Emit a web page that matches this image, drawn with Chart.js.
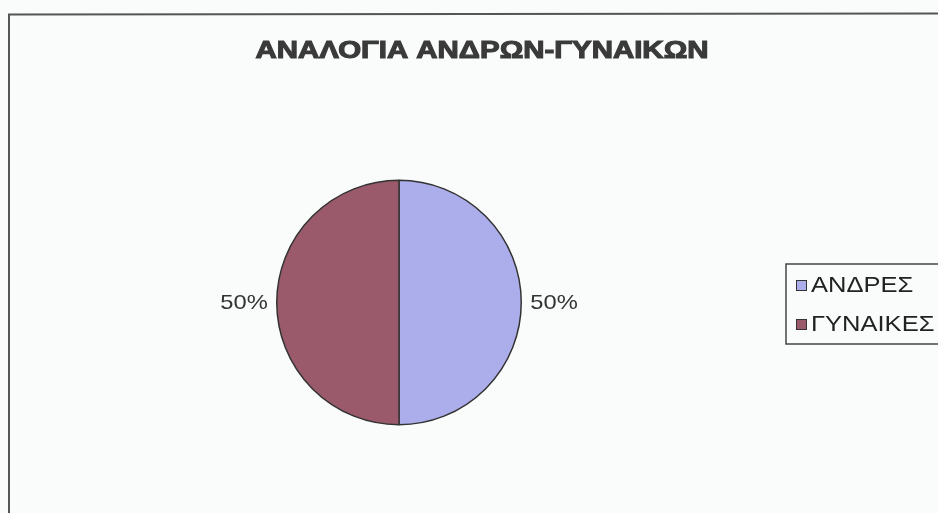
<!DOCTYPE html>
<html><head><meta charset="utf-8">
<script src="https://cdn.jsdelivr.net/npm/chart.js@4/dist/chart.umd.min.js"></script>
<style>html,body{margin:0;padding:0;background:#fafcfc;}#wrap{width:938px;height:513px;position:relative;}</style>
</head><body><div id="wrap"><canvas id="c" width="938" height="513"></canvas></div>
<script>
const titleText = 'ΑΝΑΛΟΓΙΑ ΑΝΔΡΩΝ-ΓΥΝΑΙΚΩΝ';
const categories = ['ΑΝΔΡΕΣ', 'ΓΥΝΑΙΚΕΣ'];
const values = [50, 50];
const colors = ['#abaeea', '#9a5a6b'];

function wideText(ctx, text, x, y, sx, align) {
  ctx.save();
  ctx.translate(x, y);
  ctx.scale(sx, 1);
  ctx.textAlign = align;
  ctx.fillText(text, 0, 0);
  ctx.restore();
}

const decor = {
  id: 'decor',
  beforeDraw(chart) {
    const ctx = chart.ctx;
    ctx.save();
    ctx.fillStyle = '#fafcfc';
    ctx.fillRect(0, 0, chart.width, chart.height);
    ctx.strokeStyle = '#555';
    ctx.lineWidth = 2;
    ctx.beginPath();
    ctx.moveTo(9, 513); ctx.lineTo(9, 14.5); ctx.lineTo(938, 13.5);
    ctx.stroke();
    ctx.restore();
  },
  afterDraw(chart) {
    const ctx = chart.ctx;
    ctx.save();
    // title
    ctx.fillStyle = '#3a3a3a';
    ctx.strokeStyle = '#3a3a3a';
    ctx.lineWidth = 1.2;
    ctx.font = 'bold 26px "Liberation Sans", Arial, sans-serif';
    ctx.textAlign = 'center';
    ctx.textBaseline = 'middle';
    const tw = ctx.measureText(titleText).width;
    const sx = 453 / tw;
    ctx.translate(482, 51);
    ctx.scale(sx, 0.95);
    ctx.fillText(titleText, 0, 0);
    ctx.strokeText(titleText, 0, 0);
    ctx.setTransform(1,0,0,1,0,0);
    // percent labels
    const meta = chart.getDatasetMeta(0);
    const total = values.reduce((a, b) => a + b, 0);
    ctx.font = '21px "Liberation Sans", Arial, sans-serif';
    ctx.fillStyle = '#333';
    ctx.textBaseline = 'middle';
    meta.data.forEach((arc, i) => {
      const mid = (arc.startAngle + arc.endAngle) / 2;
      const r = arc.outerRadius + 9;
      const x = arc.x + Math.cos(mid) * r;
      const y = arc.y + Math.sin(mid) * r;
      wideText(ctx, Math.round(values[i] / total * 100) + '%', x, y + 1, 1.13, Math.cos(mid) >= 0 ? 'left' : 'right');
    });
    // legend
    ctx.strokeStyle = '#444';
    ctx.lineWidth = 1.5;
    ctx.fillStyle = '#fafcfc';
    ctx.fillRect(786, 264, 160, 80);
    ctx.strokeRect(786, 264, 160, 80);
    ctx.font = '22px "Liberation Sans", Arial, sans-serif';
    categories.forEach((lab, i) => {
      const y = 285 + i * 39;
      ctx.fillStyle = colors[i];
      ctx.fillRect(796, y - 5, 11, 11);
      ctx.strokeStyle = '#333';
      ctx.lineWidth = 1;
      ctx.strokeRect(796.5, y - 4.5, 10, 10);
      ctx.fillStyle = '#222';
      wideText(ctx, lab, 811, y + 1, 1.16, 'left');
    });
    ctx.restore();
  }
};

new Chart(document.getElementById('c'), {
  type: 'pie',
  data: {
    labels: categories,
    datasets: [{ data: values, backgroundColor: colors, borderColor: '#333', borderWidth: 1.5 }]
  },
  options: {
    responsive: false,
    animation: false,
    layout: { padding: { left: 276, right: 416, top: 179, bottom: 87 } },
    plugins: { legend: { display: false }, title: { display: false }, tooltip: { enabled: false } }
  },
  plugins: [decor]
});
</script></body></html>
